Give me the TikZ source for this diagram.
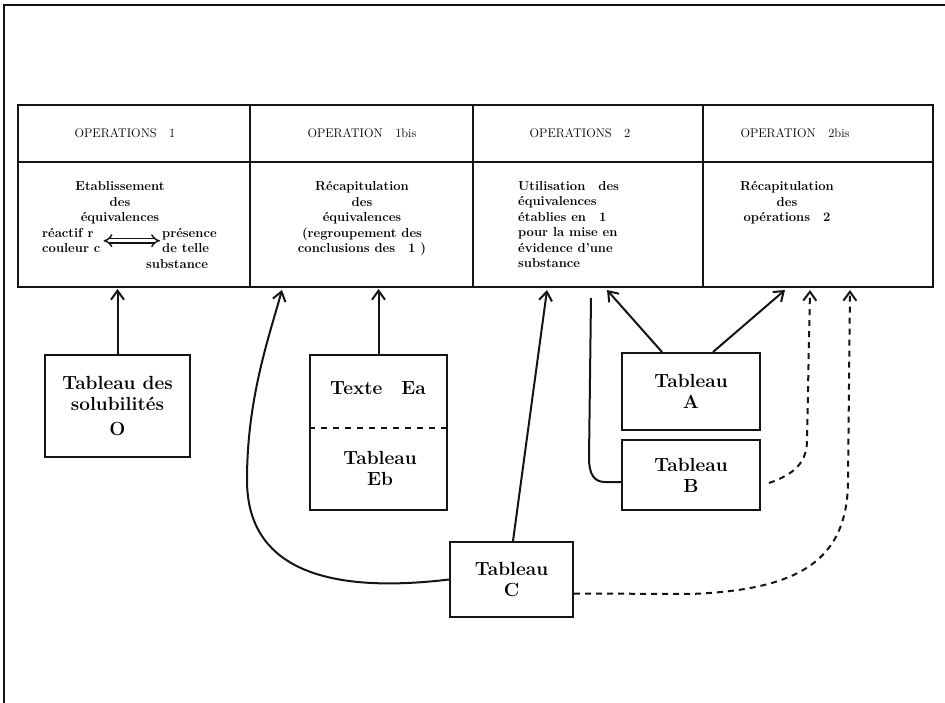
\documentclass[tikz,border=0pt]{standalone}
\usetikzlibrary{arrows.meta}
\begin{document}
\begin{tikzpicture}[x=1pt,y=-1pt,
    tabbox/.style={draw=kInk,line width=2pt,inner sep=0pt,align=center,
                   font=\fontsize{19}{21}\selectfont\bfseries},
    head/.style={font=\fontsize{12.5}{14}\selectfont,anchor=base,inner sep=0pt},
    body/.style={font=\fontsize{13}{15.5}\selectfont\bfseries,anchor=base,inner sep=0pt},
    link/.style={draw=kInk,line width=2pt,-{Straight Barb[length=9pt,width=13pt]}},
    dlink/.style={link,dash pattern=on 6pt off 5pt}
  ]
  \definecolor{kInk}{rgb}{0.08,0.08,0.08}
  \useasboundingbox (0,0) rectangle (945,703);

  % frame
  \draw[kInk,line width=1.6pt] (945,5) -- (4,5) -- (4,703);

  % table
  \draw[kInk,line width=1.8pt] (18,105) rectangle (933,287);
  \draw[kInk,line width=1.8pt] (18,162) -- (933,162);
  \foreach \x in {250,473,703}
  {
    \draw[kInk,line width=1.8pt] (\x,105) -- (\x,287);
  }

  % headers
  \foreach \x/\t/\n in {
                         125/OPERATIONS\quad 1/hA,
                         362/OPERATION\quad 1bis/hB,
                         580/OPERATIONS\quad 2/hC,
                         795/OPERATION\quad 2bis/hD
                       }
  {
    \node[head] (\n) at (\x,138) {\t};
  }

  % body of the table (base = last line)
  \node[body,align=center] (eq) at (120,222) {Etablissement\\des\\équivalences};
  \node[body,align=left,anchor=base west] (rc) at (42,253) {réactif r\\couleur c};
  \node[body,align=left,anchor=base west] (ps) at (162,253) {présence\\de telle};
  \node[body,anchor=base west] (sb) at (146,269) {substance};
  \draw[kInk,double,double distance=3pt,line width=1.4pt,{Implies}-{Implies},
        shorten <=3pt,shorten >=2pt] (rc.east) -- (ps.west);

  \node[body,align=center] (rq) at (362,253)
    {Récapitulation\\des\\équivalences\\(regroupement des\\conclusions des\quad 1 )};
  \node[body,align=left,anchor=base west] (ut) at (518,268)
    {Utilisation\quad des\\équivalences\\établies en\quad 1\\pour la mise en\\évidence d'une\\substance};
  \node[body,align=center] (ro) at (787,222) {Récapitulation\\des\\opérations\quad 2};

  % boxes
  \node[tabbox,minimum width=145pt,minimum height=102pt] (O) at (117.5,406)
    {Tableau des\\solubilités\\[4pt]O};
  \node[tabbox,minimum width=137pt,minimum height=155pt] (E) at (378.5,432.5) {};
  \node[tabbox,draw=none] (Ea) at (378,388) {Texte\quad Ea};
  \node[tabbox,draw=none] (Eb) at (380,468) {Tableau\\Eb};
  \draw[kInk,line width=1.8pt,dash pattern=on 6pt off 6pt] (E.west |- 0,428) -- (E.east |- 0,428);
  \node[tabbox,minimum width=138pt,minimum height=77pt] (A) at (691,391.5) {Tableau\\A};
  \node[tabbox,minimum width=138pt,minimum height=70pt] (B) at (691,475) {Tableau\\B};
  \node[tabbox,minimum width=123pt,minimum height=75pt] (C) at (511.5,579.5) {Tableau\\C};

  % ends on the table
  \coordinate (tO) at (O.north |- 0,289);
  \coordinate (tE) at (E.north |- 0,289);
  \coordinate (tC1) at (282,290);
  \coordinate (tC2) at (547,290);
  \coordinate (tA1) at (607,290);
  \coordinate (tA2) at (785,290);
  \coordinate (tB1) at (591,298);
  \coordinate (tB2) at (810,290);
  \coordinate (tC3) at (850,290);

  % connectors
  \draw[link] (O.north) -- (tO);
  \draw[link] (E.north) -- (tE);
  \draw[link] (C.west) .. controls (320,595) and (247,565) .. (247,480)
                       .. controls (247,400) and (268,340) .. (tC1);
  \draw[link] ([xshift=1.5pt]C.north) -- (tC2);
  \draw[link] ([xshift=-29pt]A.north) -- (tA1);
  \draw[link] ([xshift=22pt]A.north) -- (tA2);
  \draw[kInk,line width=2pt] ([yshift=-7pt]B.west) -- (605,482)
                       .. controls (594,482) and (589,474) .. (589,458) -- (tB1);
  \draw[dlink] ([xshift=8pt,yshift=-8pt]B.east) .. controls (795,474) and (807,462) .. (807,440) -- (tB2);
  \draw[dlink] ([yshift=-14pt]C.east) -- (690,594) .. controls (800,590) and (848,560) .. (848,480) -- (tC3);
\end{tikzpicture}
\end{document}
